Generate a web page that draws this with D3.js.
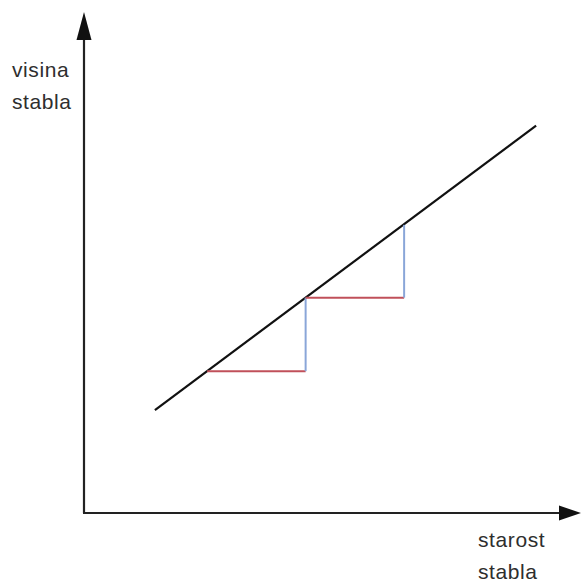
<!DOCTYPE html>
<html>
<head>
<meta charset="utf-8">
<script src="https://cdn.jsdelivr.net/npm/d3@7"></script>
<style>
  html, body { margin: 0; padding: 0; background: #fff; }
  svg { display: block; }
  text { font-family: "Liberation Sans", Arial, sans-serif; fill: #2e2e2e; letter-spacing: 0.6px; }
</style>
</head>
<body>
<svg id="chart" width="582" height="583"></svg>
<script>
// Tree growth: height versus age, with annual steps marked
const lineAge = [0.72, 4.59];
const lineHeight = [1.40, 5.27];
const stepAge = [1.25, 2.25, 3.25];
const stepHeight = [1.93, 2.93, 3.92];
const yLabel = ["visina", "stabla"];
const xLabel = ["starost", "stabla"];

const svg = d3.select("#chart");
const origin = { x: 84, y: 513 };

const x = d3.scaleLinear().domain([0, 5]).range([origin.x, origin.x + 5 * 98.5]);
const y = d3.scaleLinear().domain([0, 7]).range([origin.y, origin.y - 7 * 73.5]);

// axes with arrowheads
const axisColor = "#222";
svg.append("line")
  .attr("x1", origin.x).attr("y1", origin.y)
  .attr("x2", origin.x).attr("y2", 36)
  .attr("stroke", axisColor).attr("stroke-width", 2.2);
svg.append("path")
  .attr("d", `M${origin.x},12 L${origin.x - 7.5},40 L${origin.x + 7.5},40 Z`)
  .attr("fill", "#111");
svg.append("line")
  .attr("x1", origin.x - 1).attr("y1", origin.y)
  .attr("x2", 562).attr("y2", origin.y)
  .attr("stroke", axisColor).attr("stroke-width", 2.2);
svg.append("path")
  .attr("d", `M581,${origin.y} L559,${origin.y - 7.5} L559,${origin.y + 7.5} Z`)
  .attr("fill", "#111");

// growth line
const line = d3.line().x(d => x(d[0])).y(d => y(d[1]));
svg.append("path")
  .attr("d", line(lineAge.map((a, i) => [a, lineHeight[i]])))
  .attr("fill", "none").attr("stroke", "#111").attr("stroke-width", 2.2);

// steps: horizontal (one year) in red, vertical (growth) in blue
for (let i = 0; i < stepAge.length - 1; i++) {
  svg.append("line")
    .attr("x1", x(stepAge[i])).attr("y1", y(stepHeight[i]))
    .attr("x2", x(stepAge[i + 1])).attr("y2", y(stepHeight[i]))
    .attr("stroke", "#c0505a").attr("stroke-width", 2);
  svg.append("line")
    .attr("x1", x(stepAge[i + 1])).attr("y1", y(stepHeight[i]))
    .attr("x2", x(stepAge[i + 1])).attr("y2", y(stepHeight[i + 1]))
    .attr("stroke", "#8aa6d8").attr("stroke-width", 2);
}

// axis titles
svg.selectAll("text.ylab").data(yLabel).join("text")
  .attr("class", "ylab")
  .attr("x", 12).attr("y", (d, i) => 77 + i * 32)
  .attr("font-size", 21)
  .text(d => d);
svg.selectAll("text.xlab").data(xLabel).join("text")
  .attr("class", "xlab")
  .attr("x", 478).attr("y", (d, i) => 547 + i * 32)
  .attr("font-size", 21)
  .text(d => d);
</script>
</body>
</html>
